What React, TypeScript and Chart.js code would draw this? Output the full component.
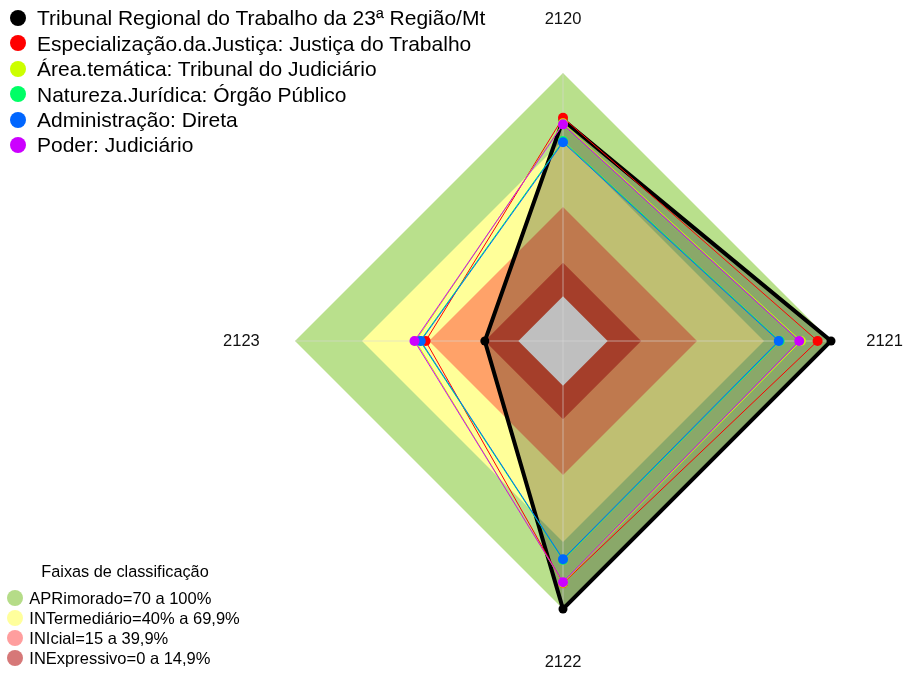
import React, { useEffect, useRef } from "react";
import { Chart, registerables } from "chart.js";

Chart.register(...registerables);

// ---------- data ----------
const axisLabels = ["2120", "2121", "2122", "2123"];

const seriesNames = [
  "Tribunal Regional do Trabalho da 23ª Região/Mt",
  "Especialização.da.Justiça: Justiça do Trabalho",
  "Área.temática: Tribunal do Judiciário",
  "Natureza.Jurídica: Órgão Público",
  "Administração: Direta",
  "Poder: Judiciário",
];
const seriesColors = ["#000000", "#FF0000", "#CCFF00", "#00FF66", "#0066FF", "#CC00FF"];

const tribunal = [79, 100, 100, 15];
const especializacao = [80, 94, 88.5, 41.5];
const areaTematica = [77.5, 86.5, 88.3, 46];
const naturezaJuridica = [69.5, 77, 78, 44];
const administracao = [69, 76.6, 77.7, 43.7];
const poder = [77, 85.8, 88, 46.5];
const seriesValues = [tribunal, especializacao, areaTematica, naturezaJuridica, administracao, poder];

// classification bands (upper bound of each band, inner white core last)
const bandTitle = "Faixas de classificação";
const bandNames = [
  "APRimorado=70 a 100%",
  "INTermediário=40% a 69,9%",
  "INIcial=15 a 39,9%",
  "INExpressivo=0 a 14,9%",
];
const bandUpper = [100, 70, 40, 15, 0];
const bandFill = ["#b9e08c", "#ffff99", "#ffa269", "#dd5338", "#ffffff"];
const bandLegendColors = ["#b5dc88", "#ffff9c", "#ff9e9e", "#d67878"];

const scaleMin = -20;
const scaleMax = 100;
const labelValue = 124;

const FONT = "'Liberation Sans', Arial, Helvetica, sans-serif";

export default function App() {
  const canvasRef = useRef<HTMLCanvasElement | null>(null);

  useEffect(() => {
    if (!canvasRef.current) return;
    const nS = seriesValues.length;
    const seriesDatasets = seriesValues.map((vals, i) => ({
      label: seriesNames[i],
      data: vals,
      order: nS - i,
      borderColor: seriesColors[i],
      backgroundColor: i === 0 ? "rgba(0,0,0,0.25)" : "rgba(0,0,0,0)",
      fill: i === 0 ? "start" : false,
      borderWidth: i === 0 ? 4 : 1,
      pointRadius: i === 0 ? 4.5 : 5,
      pointBorderWidth: 0,
      pointBackgroundColor: seriesColors[i],
      pointBorderColor: seriesColors[i],
      pointHoverRadius: 5,
    }));
    const bandDatasets = bandUpper.map((v, bi) => ({
      label: "band" + bi,
      data: axisLabels.map(() => v),
      order: 20 - bi,
      borderColor: "rgba(0,0,0,0)",
      backgroundColor: bandFill[bi],
      fill: "start",
      borderWidth: 0,
      pointRadius: 0,
      pointHoverRadius: 0,
    }));
    const coreIndex = nS + bandUpper.length - 1; // white core, drawn last among bands

    const spokesPlugin = {
      id: "spokes",
      afterDatasetDraw(chart: any, args: any) {
        if (args.index !== coreIndex) return;
        const scale = chart.scales.r;
        const ctx = chart.ctx;
        ctx.save();
        ctx.strokeStyle = "rgba(215,215,215,0.6)";
        ctx.lineWidth = 1;
        for (let i = 0; i < axisLabels.length; i++) {
          const p = scale.getPointPositionForValue(i, scaleMax);
          ctx.beginPath();
          ctx.moveTo(scale.xCenter, scale.yCenter);
          ctx.lineTo(p.x, p.y);
          ctx.stroke();
        }
        ctx.restore();
      },
    };

    const axisLabelPlugin = {
      id: "axisLabels",
      afterDraw(chart: any) {
        const scale = chart.scales.r;
        const ctx = chart.ctx;
        ctx.save();
        ctx.fillStyle = "#111111";
        ctx.font = `16.5px ${FONT}`;
        ctx.textAlign = "center";
        ctx.textBaseline = "middle";
        axisLabels.forEach((lab, i) => {
          const p = scale.getPointPositionForValue(i, labelValue);
          ctx.fillText(lab, p.x, p.y);
        });
        ctx.restore();
      },
    };

    const chart = new Chart(canvasRef.current, {
      type: "radar",
      data: {
        labels: axisLabels,
        datasets: [...seriesDatasets, ...bandDatasets] as any,
      },
      options: {
        animation: false,
        responsive: true,
        maintainAspectRatio: false,
        layout: { padding: { left: 295, right: 73, top: 73, bottom: 65 } },
        plugins: {
          legend: { display: false },
          tooltip: { enabled: false },
          filler: { drawTime: "beforeDatasetsDraw" },
        } as any,
        elements: { line: { tension: 0 } },
        scales: {
          r: {
            min: scaleMin,
            max: scaleMax,
            ticks: { display: false },
            grid: { display: false },
            angleLines: { display: false },
            pointLabels: { display: false },
          },
        },
      },
      plugins: [spokesPlugin, axisLabelPlugin],
    });
    return () => chart.destroy();
  }, []);

  return (
    <div style={{ position: "fixed", left: 0, top: 0, width: 905, height: 675, background: "#fff", fontFamily: FONT }}>
      <canvas ref={canvasRef} style={{ position: "absolute", left: 0, top: 0 }} />
      {seriesNames.map((name, i) => (
        <div
          key={name}
          style={{
            position: "absolute",
            left: 0,
            top: 17.7 + 25.45 * i - 12.5,
            height: 25,
            lineHeight: "25px",
            fontSize: 21,
            color: "#000",
            whiteSpace: "nowrap",
          }}
        >
          <span
            style={{
              position: "absolute",
              left: 10,
              top: 4.5,
              width: 16,
              height: 16,
              borderRadius: "50%",
              background: seriesColors[i],
            }}
          />
          <span style={{ position: "absolute", left: 37, top: 0 }}>{name}</span>
        </div>
      ))}
      <div
        style={{
          position: "absolute",
          left: 0,
          width: 250,
          top: 571 - 10,
          height: 20,
          lineHeight: "20px",
          fontSize: 16.3,
          textAlign: "center",
          color: "#000",
          whiteSpace: "nowrap",
        }}
      >
        {bandTitle}
      </div>
      {bandNames.map((name, i) => (
        <div
          key={name}
          style={{
            position: "absolute",
            left: 0,
            top: 597.7 + 20.2 * i - 10,
            height: 20,
            lineHeight: "20px",
            fontSize: 16.5,
            color: "#000",
            whiteSpace: "nowrap",
          }}
        >
          <span
            style={{
              position: "absolute",
              left: 6.7,
              top: 2,
              width: 16,
              height: 16,
              borderRadius: "50%",
              background: bandLegendColors[i],
            }}
          />
          <span style={{ position: "absolute", left: 29.3, top: 0 }}>{name}</span>
        </div>
      ))}
    </div>
  );
}
